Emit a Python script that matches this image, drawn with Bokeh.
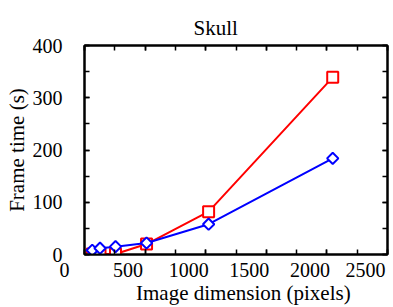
import math
from bokeh.plotting import figure
from bokeh.models import Range1d, LinearAxis, SingleIntervalTicker, CustomJSTickFormatter
from bokeh.embed import file_html
from bokeh.resources import INLINE

# ---- data ----
title_text = "Skull"
x_label = "Image dimension (pixels)"
y_label = "Frame time (s)"
dims = [64, 128, 256, 512, 1024, 2048]
red_times = [1, 1, 1, 20, 82, 339]
blue_times = [8, 12, 15, 22, 58, 184]
x_ticks = [0, 500, 1000, 1500, 2000, 2500]
y_ticks = [0, 100, 200, 300, 400]

# ---- layout ----
W, H = 393, 307
FONT = "Liberation Serif"
FIG_SP = "\u2007"   # figure space: shifts centred x labels to the left like the original
THIN_SP = "\u2009"


def x_pad(i, n):
    if i == 0:
        return FIG_SP * 4
    if i == n - 1:
        return THIN_SP * 2   # last label is kept inside the canvas by Bokeh
    return FIG_SP * 3 + THIN_SP


p = figure(width=W, height=H, x_range=Range1d(x_ticks[0], x_ticks[-1]),
           y_range=Range1d(y_ticks[0], y_ticks[-1]),
           output_backend="svg", toolbar_location=None,
           min_border_left=84, min_border_right=6, min_border_top=45, min_border_bottom=51)
p.grid.visible = False
p.outline_line_color = "black"
p.outline_line_width = 2
p.background_fill_color = "white"
p.border_fill_color = "white"

p.title.text = title_text
p.title.text_font = FONT
p.title.text_font_size = "21px"
p.title.text_font_style = "normal"
p.title.text_color = "black"
p.title.align = "left"
p.title.offset = 109
p.title.standoff = 12

p.add_layout(LinearAxis(formatter=CustomJSTickFormatter(code="return ''")), "above")
p.add_layout(LinearAxis(formatter=CustomJSTickFormatter(code="return ''")), "right")
for ax in p.xaxis:
    ax.ticker = SingleIntervalTicker(interval=500, num_minor_ticks=2)
for ax in p.yaxis:
    ax.ticker = SingleIntervalTicker(interval=100, num_minor_ticks=2)
for ax in p.axis:
    ax.major_label_standoff = 0
    ax.major_tick_in = 5
    ax.major_tick_out = 0
    ax.minor_tick_in = 5
    ax.minor_tick_out = 0
    ax.axis_line_width = 2
    ax.axis_line_color = "black"
    ax.major_tick_line_width = 1.5
    ax.minor_tick_line_width = 1.5
    ax.major_label_text_font = FONT
    ax.major_label_text_font_size = "20px"
    ax.major_label_text_color = "black"
    ax.axis_label_text_font = FONT
    ax.axis_label_text_font_size = "21px"
    ax.axis_label_text_font_style = "normal"
    ax.axis_label_text_color = "black"

xa = p.below[0]
xa.axis_label = FIG_SP + THIN_SP + x_label
xa.major_label_standoff = 4
xa.axis_label_standoff = -3
xa.major_label_overrides = {t: str(t) + x_pad(i, len(x_ticks)) for i, t in enumerate(x_ticks)}

ya = p.left[0]
ya.axis_label = y_label
ya.major_label_standoff = 22
ya.axis_label_standoff = 1
ya.major_label_overrides = {t: str(t) for t in y_ticks}

# series
p.line(dims, red_times, line_color="#ff0000", line_width=2)
p.scatter(dims, red_times, marker="square", size=11, line_color="#ff0000",
          fill_color="white", line_width=2)
p.line(dims, blue_times, line_color="#0000ff", line_width=2)
p.scatter(dims, blue_times, marker="square", angle=math.pi / 4, size=8,
          line_color="#0000ff", fill_color="white", line_width=2)

open("out.html", "w").write(file_html(p, INLINE))
